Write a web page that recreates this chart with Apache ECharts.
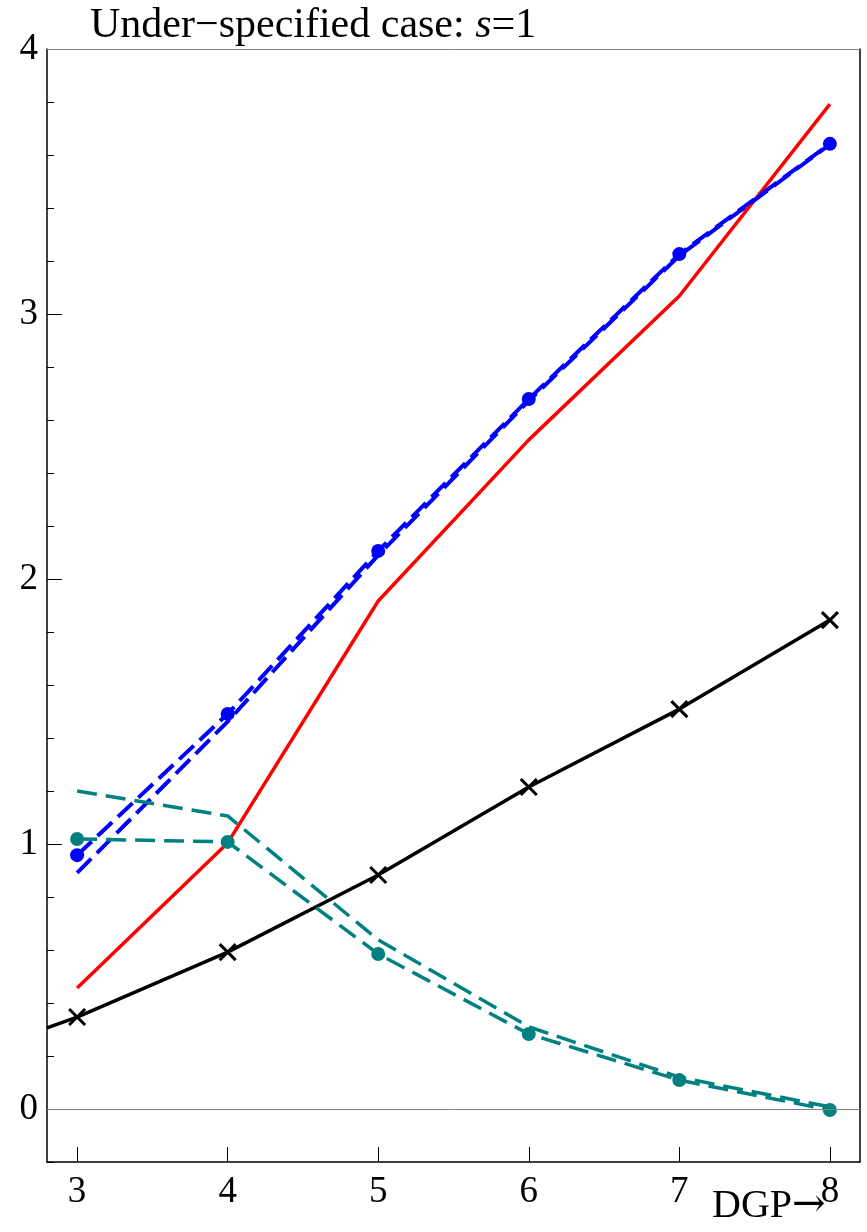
<!DOCTYPE html>
<html>
<head>
<meta charset="utf-8">
<script src="https://cdn.jsdelivr.net/npm/echarts@6/dist/echarts.min.js"></script>
<style>
html,body{margin:0;padding:0;background:#fff;}
#c{width:867px;height:1232px;}
</style>
</head>
<body>
<div id="c"></div>
<script>
const xs = [3, 4, 5, 6, 7, 8];
const xTickLabels = [3, 4, 5, 6, 7, 8];
const yTickLabels = [0, 1, 2, 3, 4];
const blueDots = [0.958, 1.491, 2.106, 2.679, 3.226, 3.642];
const blueDash = [0.891, 1.462, 2.090, 2.672, 3.220, 3.640];
const red = [0.457, 1.004, 1.917, 2.525, 3.068, 3.792];
const blackXs = [2.8, 3, 4, 5, 6, 7, 8];
const black = [0.306, 0.347, 0.592, 0.883, 1.215, 1.509, 1.845];
const tealDots = [1.019, 1.008, 0.585, 0.283, 0.109, -0.004];
const tealDash = [1.200, 1.106, 0.638, 0.310, 0.120, 0.008];

const FONT = '"Liberation Serif", "DejaVu Serif", serif';
const pair = (xv, yv) => xv.map((x, i) => [x, yv[i]]);

const chart = echarts.init(document.getElementById('c'), null, {renderer: 'canvas'});
const blackData = blackXs.map((x, i) => i === 0 ? {value: [x, black[i]], symbol: 'none'} : [x, black[i]]);

chart.setOption({
  animation: false,
  backgroundColor: '#fff',
  grid: {left: 47, right: 7, top: 49, bottom: 70, containLabel: false},
  xAxis: [{
    type: 'value', min: 2.8, max: 8.2,
    axisLine: {show: true, onZero: false, lineStyle: {color: '#000', width: 1.5}},
    axisTick: {show: true, inside: true, length: 15, customValues: xTickLabels, lineStyle: {color: '#000', width: 1}},
    axisLabel: {show: true, customValues: xTickLabels, margin: 12, fontSize: 37, fontFamily: FONT, color: '#000'},
    splitLine: {show: false}
  }],
  yAxis: [{
    type: 'value', min: -0.2, max: 4, interval: 0.2,
    axisLine: {show: true, onZero: false, lineStyle: {color: '#000', width: 1.5}},
    axisTick: {show: true, inside: true, length: 7, lineStyle: {color: '#000', width: 1}},
    axisLabel: {show: true, customValues: yTickLabels, margin: 9, fontSize: 37, fontFamily: FONT, color: '#000'},
    splitLine: {show: false}
  }, {
    type: 'value', min: -0.2, max: 4, position: 'left',
    axisLine: {show: false, onZero: false},
    axisTick: {show: true, inside: true, length: 15, customValues: yTickLabels, lineStyle: {color: '#000', width: 1}},
    axisLabel: {show: false},
    splitLine: {show: false}
  }, {
    type: 'value', min: -0.2, max: 4, position: 'right',
    axisLine: {show: true, onZero: false, lineStyle: {color: '#000', width: 1.5}},
    axisTick: {show: false},
    axisLabel: {show: false},
    splitLine: {show: false}
  }],
  graphic: [{
    type: 'text', left: 90, top: 5,
    style: {
      text: '{n|Under\u2212specified case: }{i|s}{n|=1}',
      rich: {
        n: {fontSize: 42, fontFamily: FONT, fill: '#000', color: '#000'},
        i: {fontSize: 42, fontFamily: FONT, fontStyle: 'italic', fill: '#000', color: '#000'}
      }
    }
  }, {
    type: 'text', left: 712, top: 1186,
    style: {
      text: '{n|DGP}{a|\u2192}',
      rich: {
        n: {fontSize: 40, fontFamily: FONT, fill: '#000', color: '#000'},
        a: {fontSize: 40, fontFamily: '"DejaVu Serif", serif', fill: '#000', color: '#000'}
      }
    }
  }],
  series: [{
    type: 'line', name: 'ref', data: [], silent: true,
    markLine: {
      silent: true, symbol: 'none', label: {show: false},
      lineStyle: {color: '#808080', width: 1, type: 'solid'},
      data: [{yAxis: 0}, {yAxis: 4}]
    }
  }, {
    type: 'line', name: 'red', data: pair(xs, red), symbol: 'none',
    lineStyle: {color: '#ff0000', width: 3.5}
  }, {
    type: 'line', name: 'black', data: blackData, symbol: 'path://M0,0L10,10M10,0L0,10', symbolSize: 16,
    itemStyle: {color: '#000', borderColor: '#000', borderWidth: 3},
    lineStyle: {color: '#000', width: 3.5}
  }, {
    type: 'line', name: 'blueDash', data: pair(xs, blueDash), symbol: 'none',
    lineStyle: {color: '#0000ff', width: 4, type: [20, 8]}
  }, {
    type: 'line', name: 'blueDots', data: pair(xs, blueDots), symbol: 'circle', symbolSize: 14, showAllSymbol: true,
    itemStyle: {color: '#0000ff'},
    lineStyle: {color: '#0000ff', width: 4, type: [20, 8]}
  }, {
    type: 'line', name: 'tealDash', data: pair(xs, tealDash), symbol: 'none',
    lineStyle: {color: '#008080', width: 3.5, type: [20, 9]}
  }, {
    type: 'line', name: 'tealDots', data: pair(xs, tealDots), symbol: 'circle', symbolSize: 14, showAllSymbol: true,
    itemStyle: {color: '#008080'},
    lineStyle: {color: '#008080', width: 3.5, type: [20, 9]}
  }]
});
</script>
</body>
</html>
